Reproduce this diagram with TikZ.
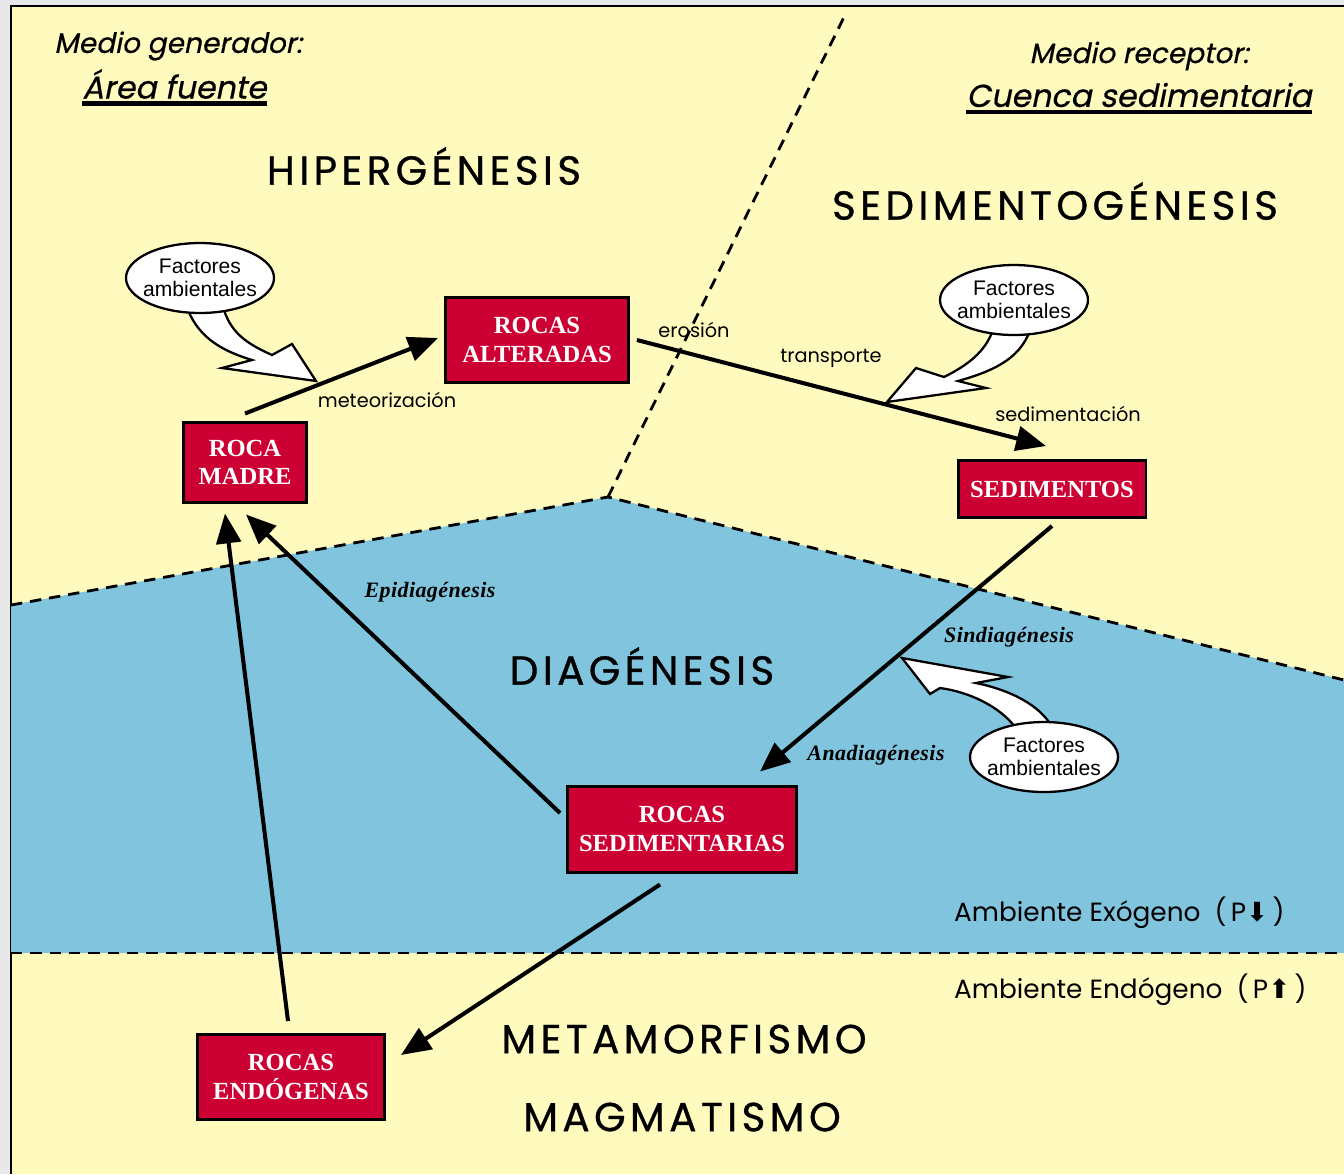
\documentclass[tikz,border=0pt]{standalone}
\usepackage{fontspec}
\setmainfont{Liberation Sans}
\newfontfamily\gothic{Poppins}
\newfontfamily\gothicobl{Poppins}[FakeSlant=0.2, FakeBold=0.6]
\newfontfamily\stagefont{Poppins}[LetterSpace=11, FakeBold=0.8]
\newfontfamily\rockfont{Liberation Serif}
\newfontfamily\phasefont{Liberation Serif}[LetterSpace=2]
\newfontfamily\arrowfont{DejaVu Sans}
\usetikzlibrary{arrows.meta, shapes.geometric, calc}

\definecolor{paper}{RGB}{255,251,190}
\definecolor{sea}{RGB}{128,196,222}
\definecolor{rock}{RGB}{204,0,51}

\begin{document}
\begin{tikzpicture}[
    x=0.02cm, y=-0.02cm,
    rockbox/.style={rectangle, draw, line width=1.7pt, fill=rock, text=white, align=center, inner sep=2pt,
      font=\rockfont\bfseries\fontsize{14}{16}\selectfont},
    factor/.style={ellipse, draw, line width=1.3pt, fill=white, align=center, inner xsep=-14pt, inner ysep=-2pt,
      minimum width=2.96cm, minimum height=1.4cm, font=\fontsize{12}{13}\selectfont},
    stage/.style={font=\stagefont\fontsize{23}{26}\selectfont},
    process/.style={font=\gothic\fontsize{11}{13}\selectfont},
    phase/.style={font=\phasefont\bfseries\itshape\fontsize{12.5}{14}\selectfont},
    medium/.style={font=\gothicobl\fontsize{16}{18}\selectfont},
    place/.style={font=\gothicobl\fontsize{18}{20}\selectfont, inner sep=0pt},
    ambient/.style={font=\gothic\fontsize{15}{17}\selectfont, anchor=west},
    arrow/.style={-{Triangle[length=17pt,width=14pt]}, line width=2.3pt},
    border/.style={line width=1.6pt, dash pattern=on 6.5pt off 4.5pt},
    hollow/.style={draw, fill=white, line width=1.3pt, line join=miter}
  ]
    \useasboundingbox (0,0) rectangle (1344,1174);
    \fill[gray!18] (0,0) rectangle (1344,1174);
    \fill[paper] (11,6) rectangle (1344,1174);
    \draw[line width=1.5pt] (11,1174) -- (11,6) -- (1344,6);

    % zones
    \fill[sea] (11,605) -- (608,497) -- (1344,680) -- (1344,953) -- (11,953) -- cycle;
    \draw[border] (11,605) -- (608,497) -- (1344,680);
    \draw[border] (11,953) -- (1344,953);
    \draw[border] (608,497) -- (845,15);

    % headings
    \node[medium, anchor=west] (gen) at (48,46) {Medio generador:};
    \node[place, anchor=west] (area) at (82,84) {Área fuente};
    \draw[line width=2.4pt] ($(area.base west)+(0,5)$) -- ($(area.base east)+(0,5)$);
    \node[medium] (rec) at (1139,56) {Medio receptor:};
    \node[place] (cuenca) at (1139,95) {Cuenca sedimentaria};
    \draw[line width=2.4pt] ($(cuenca.base west)+(0,5)$) -- ($(cuenca.base east)+(0,5)$);

    \node[stage] (hiper) at (424,166) {HIPERGÉNESIS};
    \node[stage] (sedgen) at (1055,201) {SEDIMENTOGÉNESIS};
    \node[stage] (diag) at (642,666) {DIAGÉNESIS};
    \node[stage] (meta) at (684,1039) {METAMORFISMO};
    \node[stage] (magma) at (682,1117) {MAGMATISMO};

    \node[ambient] (exo) at (948,913) {Ambiente Exógeno\ \ (\,P{\arrowfont ⬇}\,)};
    \node[ambient] (endo) at (948,990) {Ambiente Endógeno\ \ (\,P{\arrowfont ⬆}\,)};

    % rocks
    \node[rockbox, minimum width=2.48cm, minimum height=1.6cm] (madre) at (245,462) {ROCA\\MADRE};
    \node[rockbox, minimum width=3.66cm, minimum height=1.7cm] (alteradas) at (537,340) {ROCAS\\ALTERADAS};
    \node[rockbox, minimum width=3.76cm, minimum height=1.14cm] (sedimentos) at (1052,489) {SEDIMENTOS};
    \node[rockbox, minimum width=4.58cm, minimum height=1.72cm] (sedimentarias) at (682,829) {ROCAS\\SEDIMENTARIAS};
    \node[rockbox, minimum width=3.74cm, minimum height=1.7cm] (endogenas) at (291,1077) {ROCAS\\ENDÓGENAS};

    % cycle
    \draw[arrow] ($(madre.north)+(0,-7)$) -- ($(alteradas.west)+(-6,-2)$);
    \draw[arrow] ($(alteradas.east)+(7,0)$) -- ($(sedimentos.north)+(-6,-13)$);
    \draw[arrow] ($(sedimentos.south)+(0,7)$) -- ($(sedimentarias.north)+(78,-13)$);
    \draw[arrow] ($(sedimentarias.west)+(-6,-16)$) -- ($(madre.south)+(1,11)$);
    \draw[arrow] ($(sedimentarias.south)+(-22,11)$) -- ($(endogenas.east)+(15,-22)$);
    \draw[arrow] ($(endogenas.north)+(-3,-12)$) -- ($(madre.south)+(-20,10)$);

    \node[process] (meteo) at (387,400) {meteorización};
    \node[process] (erosion) at (694,330) {erosión};
    \node[process] (transp) at (831,358) {transporte};
    \node[process] (sedim) at (1068,414) {sedimentación};
    \node[phase] (epi) at (430,592) {Epidiagénesis};
    \node[phase] (sin) at (1009,637) {Sindiagénesis};
    \node[phase] (ana) at (876,755) {Anadiagénesis};

    % factores ambientales
    \path[hollow] (188,310) .. controls (200,340) and (226,352) .. (252,360) -- (222,368) -- (316,381)
      -- (292,344) -- (272,355) .. controls (250,345) and (232,335) .. (224,310) -- cycle;
    \path[hollow] (887,402) -- (916,368) -- (944,377) .. controls (968,365) and (985,352) .. (993,330)
      -- (1030,330) .. controls (1020,360) and (990,372) .. (958,381) -- (986,388) -- cycle;
    \path[hollow] (902,658) -- (1008,677) -- (976,683) .. controls (1010,690) and (1040,705) .. (1052,727)
      -- (1015,727) .. controls (1000,707) and (970,692) .. (940,688) -- (930,694) -- cycle;
    \node[factor] (f1) at (200,278) {Factores\\ambientales};
    \node[factor] (f2) at (1014,300) {Factores\\ambientales};
    \node[factor] (f3) at (1044,757) {Factores\\ambientales};
  \end{tikzpicture}
\end{document}
